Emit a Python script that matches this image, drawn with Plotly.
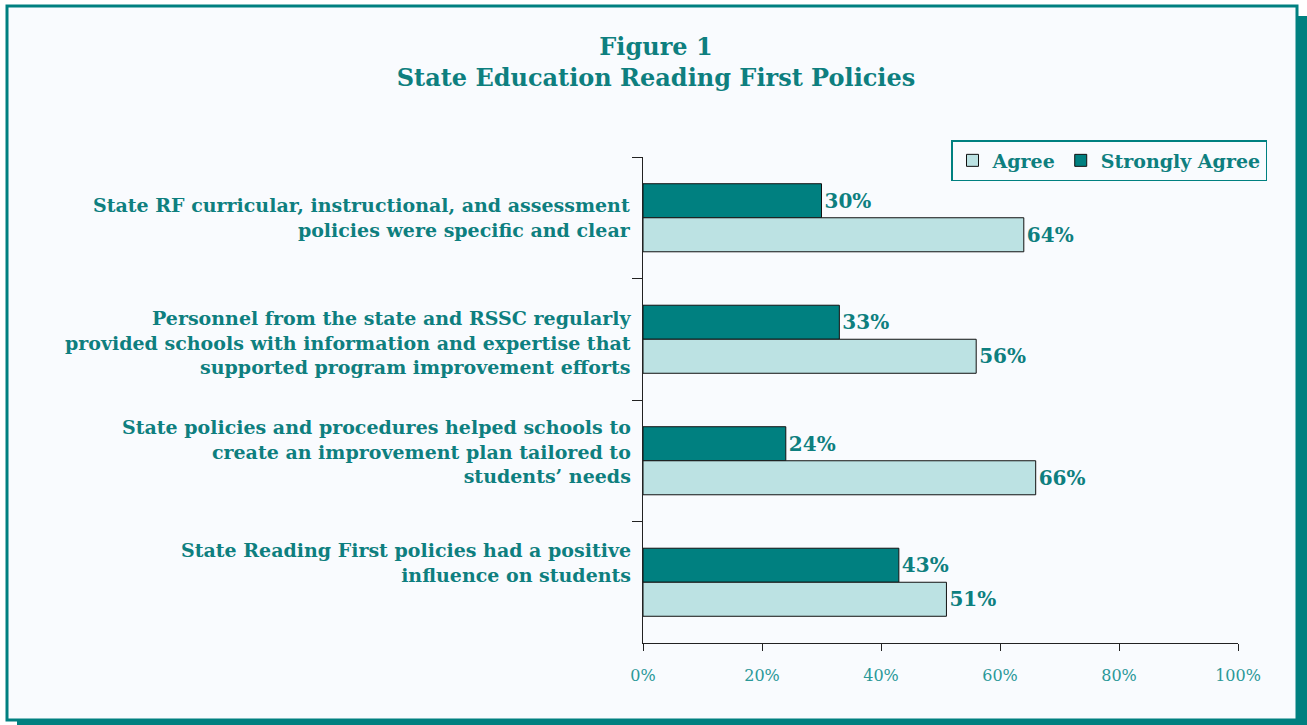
import plotly.graph_objects as go

categories = [
    "State RF curricular, instructional, and assessment<br>policies were specific and clear",
    "Personnel from the state and RSSC regularly<br>provided schools with information and expertise that<br>supported program improvement efforts",
    "State policies and procedures helped schools to<br>create an improvement plan tailored to<br>students’ needs",
    "State Reading First policies had a positive<br>influence on students",
]
strongly_agree = [30, 33, 24, 43]
agree = [64, 56, 66, 51]
x_ticks = [0, 20, 40, 60, 80, 100]
x_tick_labels = ["0%", "20%", "40%", "60%", "80%", "100%"]

# vertical nudges of the category labels (pixels, up is positive), matching the original layout
label_shift = [0, -3, 9, 20]

TEAL = "#008080"
TEXT = "#0E7F7F"
LIGHT = "#BCE2E3"
BG = "#F9FBFE"
FONT = "DejaVu Serif"

W, H = 1307, 725
L, R, T, B = 643, 69, 157, 82
PW, PH = W - L - R, H - T - B


def px(x):
    return (x - L) / PW


def py(y):
    return (H - B - y) / PH


fig = go.Figure()
fig.add_trace(go.Bar(
    y=categories, x=strongly_agree, orientation="h", name="<b>Strongly Agree</b>",
    marker=dict(color=TEAL, line=dict(color="#111111", width=1)),
    text=[f"{v}%" for v in strongly_agree], texttemplate="<b>%{text}</b>",
    textposition="outside",
    textfont=dict(family=FONT, size=20, color=TEXT), cliponaxis=False,
    legendrank=2,
))
fig.add_trace(go.Bar(
    y=categories, x=agree, orientation="h", name="<b>Agree</b>",
    marker=dict(color=LIGHT, line=dict(color="#111111", width=1)),
    text=[f"{v}%" for v in agree], texttemplate="<b>%{text}</b>",
    textposition="outside",
    textfont=dict(family=FONT, size=20, color=TEXT), cliponaxis=False,
    legendrank=1,
))

shapes = [
    dict(type="rect", xref="paper", yref="paper", layer="below",
         x0=px(17), x1=px(1307), y0=py(16), y1=py(725),
         fillcolor=TEAL, line=dict(width=0)),
    dict(type="rect", xref="paper", yref="paper", layer="below",
         x0=px(7), x1=px(1297), y0=py(6), y1=py(720),
         fillcolor=BG, line=dict(color=TEAL, width=3)),
]

annotations = [
    dict(text=f"<b>{c}</b>", x=0, xref="paper", y=c, yref="y",
         xanchor="right", yanchor="middle", xshift=-10, yshift=s,
         align="right", showarrow=False,
         font=dict(family=FONT, size=19, color=TEXT))
    for c, s in zip(categories, label_shift)
]

fig.update_layout(
    width=W, height=H,
    margin=dict(l=L, r=R, t=T, b=B, pad=0),
    paper_bgcolor="white", plot_bgcolor="rgba(0,0,0,0)",
    barmode="group", bargap=0.44, bargroupgap=0,
    shapes=shapes, annotations=annotations,
    title=dict(text="<b>Figure 1<br>State Education Reading First Policies</b>",
               x=656 / W, xanchor="center", y=1 - 55 / H, yanchor="middle",
               font=dict(family=FONT, size=24, color=TEXT)),
    legend=dict(orientation="h", x=px(951), y=py(140), xanchor="left", yanchor="top",
                bgcolor=BG, bordercolor=TEAL, borderwidth=1.5,
                font=dict(family=FONT, size=19, color=TEXT),
                itemwidth=30, tracegroupgap=0),
    xaxis=dict(range=[0, 100], tickvals=x_ticks, ticktext=x_tick_labels,
               showgrid=False, zeroline=False, showline=True, linecolor="#222222", linewidth=1,
               ticks="outside", ticklen=7, tickcolor="#222222",
               tickfont=dict(family=FONT, size=16, color="#2A9898"),
               ticklabelstandoff=11),
    yaxis=dict(categoryorder="array", categoryarray=categories, range=[3.5, -0.5],
               showgrid=False, zeroline=False, showline=True, linecolor="#222222", linewidth=1,
               ticks="outside", ticklen=10, tickcolor="#222222", tickson="boundaries",
               showticklabels=False),
)

fig.write_html("out.html")
